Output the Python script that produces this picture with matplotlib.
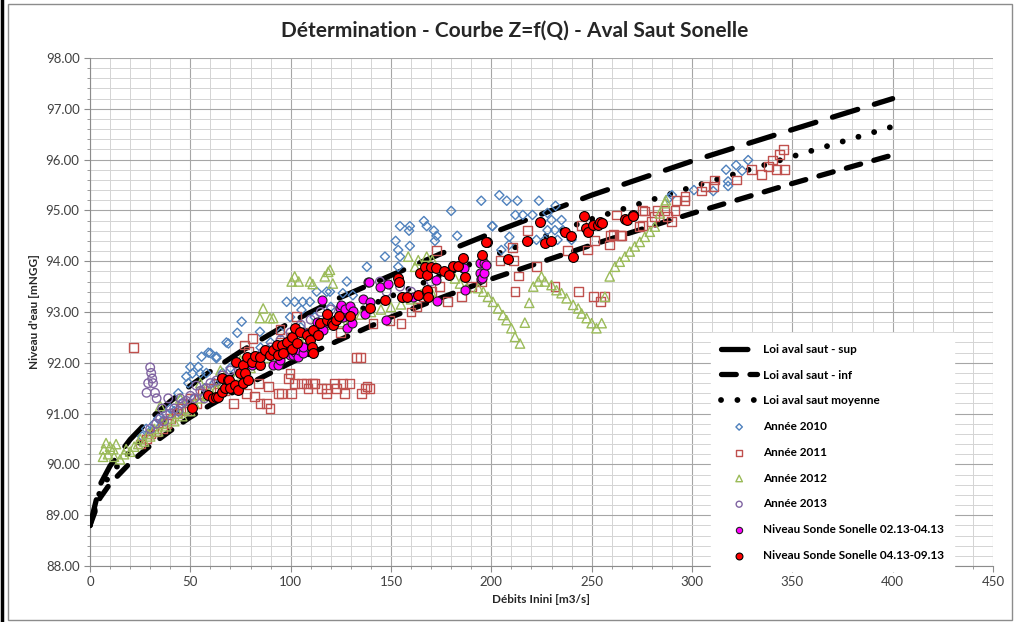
import matplotlib.pyplot as plt
from matplotlib.lines import Line2D
from matplotlib.patches import Rectangle

plt.rcParams['font.family'] = ['Lato', 'DejaVu Sans']

# rating curves
q_law = [0, 5, 10, 20, 30, 40, 50, 60, 75, 100, 125, 150, 175, 200, 250, 300, 350, 400]
z_sup = [88.8, 89.6, 89.97, 90.49, 90.9, 91.24, 91.55, 91.83, 92.22, 92.8, 93.29, 93.72,
         94.15, 94.55, 95.3, 95.97, 96.59, 97.2]
z_inf = [88.8, 89.34, 89.62, 90.03, 90.37, 90.66, 90.93, 91.17, 91.5, 92.0, 92.46, 92.9,
         93.28, 93.65, 94.32, 94.94, 95.53, 96.09]
z_moy = [88.8, 89.47, 89.8, 90.26, 90.63, 90.95, 91.24, 91.5, 91.86, 92.4, 92.88, 93.31,
         93.72, 94.1, 94.83, 95.46, 96.06, 96.65]

# Année 2010
q_2010 = [26, 28, 30, 32, 34, 36, 38, 40, 42, 44, 46.5, 48, 49, 50, 51, 54, 55, 55.6, 58, 59,
          60, 63, 63, 68, 69, 73.4, 75.6, 84.7, 99.7, 98, 102, 105.4, 106, 109.6, 113, 118,
          119.6, 126, 128, 131, 138, 45, 52, 57, 62, 66, 70, 78, 85, 90, 95, 105, 112, 120,
          147, 152.3, 153.6, 153.6, 154.5, 154.5, 159, 159.4, 159.4, 166.4, 167.8, 171.4,
          172.7, 171.9, 180, 183, 195, 200.4, 204, 207.7, 213, 223.7, 232, 212, 215.7, 220.5,
          200.6, 225, 228, 230, 235, 228, 231.7, 235.7, 226.7, 233, 240, 209, 208.8, 205,
          222.5, 288.5, 290, 301, 310.6, 318, 318, 317, 322, 325, 328]
z_2010 = [90.55, 90.7, 90.65, 90.8, 90.9, 90.85, 91.0, 91.1, 91.05, 91.4, 91.23, 91.73, 91.6,
          91.92, 91.79, 91.92, 91.79, 92.12, 91.8, 92.2, 92.19, 92.09, 92.12, 92.4, 92.38,
          92.59, 92.81, 92.61, 92.9, 93.2, 93.2, 93.04, 93.2, 93.2, 93.4, 93.4, 93.4, 93.37,
          93.6, 93.33, 93.89, 91.0, 91.3, 91.5, 91.6, 91.8, 91.9, 92.1, 92.3, 92.4, 92.6, 92.7,
          92.9, 93.1, 94.09, 94.4, 94.22, 93.89, 94.69, 94.09, 94.6, 94.69, 94.3, 94.79,
          94.69, 94.6, 94.5, 94.4, 94.99, 94.5, 95.19, 94.69, 95.3, 95.19, 95.19, 95.19,
          95.09, 94.91, 94.91, 94.91, 94.69, 94.78, 94.95, 94.81, 94.81, 94.61, 94.61, 94.61,
          94.42, 94.42, 94.42, 94.48, 94.32, 94.22, 94.42, 95.24, 95.3, 95.4, 95.38, 95.48,
          95.57, 95.8, 95.89, 95.78, 95.99]

# Année 2011
q_2011 = [21.6, 25, 28, 30, 33, 36, 38, 40, 43, 45, 48, 50, 53, 56, 60, 64, 67, 71.4, 77, 78,
          79, 81, 82, 84, 84.7, 88, 88.8, 89.7, 93.8, 94.7, 95.5, 98.8, 99.7, 100.5, 102, 103,
          105.6, 108, 108.7, 111, 112, 115.4, 118, 118, 122, 123, 126, 127, 129.5, 133, 135,
          135.4, 137, 139.5, 138, 90, 95, 100, 105, 110, 115, 120, 125, 130, 141, 149.5, 155,
          160, 163, 166, 170, 174, 172.7, 178, 185, 190, 195, 204.3, 210.6, 211, 211.8, 213.4,
          222.5, 231.7, 238, 243.3, 248, 250.8, 251.6, 254.4, 256.6, 259.5, 265, 262.4, 275.5,
          275.5, 259, 260.7, 264.4, 274, 276.5, 279.8, 281.5, 283, 286.5, 288, 289.8, 291.5,
          292, 296.5, 296.5, 304.7, 306.6, 310.6, 311.4, 322, 329.7, 334.7, 338, 340, 342,
          343.8, 345.5, 346.3, 218, 245]
z_2011 = [92.3, 90.4, 90.5, 90.6, 90.65, 90.7, 90.8, 90.9, 91.0, 91.1, 91.05, 91.3, 91.2, 91.4,
          91.5, 91.6, 91.45, 91.2, 92.35, 91.4, 92.22, 92.48, 91.33, 91.6, 91.2, 91.2, 91.53,
          91.1, 91.4, 92.65, 91.4, 91.69, 91.79, 91.4, 91.6, 92.91, 91.6, 91.6, 91.5, 91.6,
          91.6, 91.5, 91.5, 91.4, 91.6, 91.5, 91.6, 91.4, 91.6, 92.1, 92.1, 91.4, 91.5, 91.5,
          91.53, 92.2, 92.4, 92.5, 92.3, 92.6, 92.7, 92.8, 92.6, 92.9, 92.78, 92.84, 92.78,
          93.0, 93.1, 93.3, 93.4, 93.5, 94.21, 93.2, 93.3, 93.5, 93.6, 94.02, 94.27, 94.02,
          93.4, 93.71, 93.89, 93.5, 94.21, 93.4, 94.22, 93.3, 94.4, 93.2, 93.3, 94.5, 94.5,
          94.91, 95.0, 94.71, 94.32, 94.52, 94.5, 94.68, 94.99, 94.78, 94.88, 95.0, 95.0, 94.88,
          94.78, 95.0, 95.19, 95.19, 95.28, 95.38, 95.47, 95.47, 95.6, 95.6, 95.8, 95.7, 95.87,
          95.99, 95.8, 96.1, 96.2, 95.8, 94.6, 94.7]

# Année 2012
q_2012 = [6.5, 7, 8, 9, 10, 11.6, 12, 13, 15, 17, 18, 20, 22, 24, 25, 27, 29, 30, 32, 34, 36,
          38, 40, 42, 44, 46, 48, 50, 52, 55, 58, 60, 63, 66, 70, 73, 76, 80, 84, 88, 92, 96,
          100, 104, 108, 112, 116, 120, 125, 130, 135, 140, 145, 150, 155, 160, 165, 170, 35,
          45, 55, 65, 75, 84.7, 86.3, 89.7, 91.3, 100.5, 102, 104, 109.6, 111, 117, 118.7, 121,
          119.6, 158.6, 163.6, 167.8, 170.6, 162, 181.9, 184.4, 187.7, 193.5, 196, 198.3,
          200.8, 203.3, 205.8, 207.6, 210, 211.8, 214.3, 216.7, 218.9, 220.9, 223.4, 225,
          226.7, 230, 232.5, 235, 237.5, 240.8, 243.3, 245, 247.5, 250, 252.4, 255, 256.6, 259,
          261.6, 264, 266.6, 269, 271.5, 274, 276.5, 279, 281.5, 284, 286.5, 287]
z_2012 = [90.15, 90.3, 90.42, 90.2, 90.35, 90.3, 90.15, 90.4, 90.1, 90.2, 90.3, 90.25, 90.35,
          90.4, 90.5, 90.45, 90.6, 90.55, 90.7, 90.65, 90.8, 90.75, 90.9, 90.85, 91.0, 90.95,
          91.1, 91.05, 91.2, 91.3, 91.35, 91.45, 91.5, 91.6, 91.65, 91.75, 91.8, 91.9, 92.0,
          92.1, 92.2, 92.35, 92.4, 92.5, 92.55, 92.6, 92.7, 92.75, 92.8, 92.85, 92.95, 93.0,
          93.05, 93.1, 93.15, 93.25, 93.35, 93.4, 91.15, 91.3, 91.6, 91.85, 92.05, 92.88, 93.07,
          92.88, 92.88, 93.6, 93.7, 93.6, 93.6, 93.55, 93.7, 93.79, 93.56, 93.83, 94.09, 94.02,
          94.09, 94.02, 93.89, 93.66, 93.56, 93.47, 93.47, 93.4, 93.3, 93.2, 93.07, 92.94,
          92.84, 92.68, 92.51, 92.38, 92.79, 93.18, 93.5, 93.6, 93.7, 93.6, 93.53, 93.43,
          93.37, 93.27, 93.14, 93.07, 92.97, 92.88, 92.78, 92.68, 92.78, 93.3, 93.7, 93.89,
          93.99, 94.09, 94.19, 94.29, 94.38, 94.48, 94.58, 94.68, 94.94, 95.14, 95.2]

# Année 2013
q_2013 = [28.2, 29, 30, 30.5, 31, 31.4, 32.4, 33.2, 39, 30, 33, 35, 37, 40, 42, 44, 46, 48, 50,
          52, 55, 58, 60, 63, 66, 70, 74, 78, 82, 86, 90, 95, 100, 105, 110, 115, 120, 144.5,
          147.8, 154.5, 160, 170, 36, 45, 53, 57]
z_2013 = [91.41, 91.6, 91.91, 91.8, 91.69, 91.6, 91.41, 91.3, 91.3, 90.7, 90.8, 90.9, 90.85,
          91.0, 91.1, 91.05, 91.2, 91.25, 91.35, 91.3, 91.45, 91.5, 91.6, 91.65, 91.75, 91.85,
          91.95, 92.0, 92.1, 92.2, 92.3, 92.45, 92.6, 92.75, 92.85, 93.0, 93.05, 93.6, 93.4,
          93.5, 93.4, 93.6, 91.1, 91.3, 91.55, 91.3]

# Niveau Sonde Sonelle 02.13-04.13
q_s1 = [80.6, 91.3, 93.8, 94.7, 98.8, 99.7, 101.3, 102, 102, 103.8, 104, 106, 106.3, 107, 110.5,
        113, 115.4, 116.2, 118, 124.6, 124.9, 125, 126.2, 127, 127.9, 129.5, 130.4, 130.9, 137,
        136.2, 138.7, 139.2, 139.5, 144.5, 147.5, 148.6, 155.3, 161, 172.4, 172.7, 186, 186.5,
        186.8, 194.3, 194.3, 194.7, 195.2, 196.4, 196.4, 197.6]
z_s1 = [91.96, 91.96, 91.96, 92.06, 92.25, 92.15, 92.15, 92.22, 92.38, 92.12, 92.25, 92.2,
        92.32, 92.58, 92.55, 92.81, 93.24, 92.65, 92.81, 93.07, 93.14, 92.9, 92.91, 93.05,
        92.68, 93.12, 92.78, 93.01, 92.97, 93.25, 93.6, 93.6, 93.2, 93.5, 92.84, 93.56, 93.3,
        93.3, 93.62, 93.22, 93.86, 93.86, 93.43, 93.77, 93.96, 93.64, 93.66, 93.77, 93.96, 93.93]

# Niveau Sonde Sonelle 04.13-09.13
q_s2 = [50.7, 59, 61.4, 63, 64, 65.6, 65.6, 67.3, 69, 69.4, 69.8, 72.2, 72.7, 74, 74.7, 76.4,
        76.4, 77.2, 78, 78.9, 80.6, 82.2, 84.7, 84.7, 87.2, 89.7, 91.3, 93, 93.8, 95.5, 96, 98,
        100.5, 100.5, 102, 103, 104.6, 108, 109.6, 110.5, 111, 111.3, 113.7, 114.6, 118, 118,
        120.4, 121, 122.6, 124.3, 129.5, 139.5, 147, 153.6, 154, 155.3, 157.8, 163.6, 164.4,
        166.9, 167.8, 167.8, 168.2, 168.6, 169.9, 172.4, 176.4, 179, 181, 183.5, 186, 186.8,
        195.2, 198, 197.6, 208.4, 217.6, 224.2, 226.7, 229.5, 236.7, 239.5, 240.5, 246, 247.4,
        248.3, 250.8, 253.2, 254.4, 255, 266.6, 267.4, 270.4, 270.7]
z_s2 = [91.12, 91.37, 91.3, 91.33, 91.33, 91.43, 91.7, 91.5, 91.67, 91.66, 91.5, 91.56, 92.02,
        91.46, 91.79, 91.6, 91.96, 91.79, 92.12, 91.66, 92.02, 92.13, 91.96, 92.12, 92.25,
        92.15, 92.25, 92.35, 92.15, 92.35, 92.2, 92.41, 92.51, 92.28, 92.68, 92.38, 92.61,
        92.55, 92.45, 92.32, 92.2, 92.65, 92.55, 92.78, 92.84, 92.97, 92.78, 92.74, 92.84,
        92.93, 92.92, 93.07, 93.24, 93.66, 93.6, 93.3, 93.3, 93.33, 93.77, 93.88, 93.4, 93.44,
        93.73, 93.3, 93.88, 93.86, 93.8, 93.73, 93.9, 93.9, 94.06, 93.68, 94.12, 94.38, 94.38,
        94.04, 94.4, 94.78, 94.36, 94.4, 94.58, 94.5, 94.08, 94.88, 94.65, 94.58, 94.71, 94.71,
        94.78, 94.75, 94.84, 94.82, 94.91, 94.88]

x_ticks = [0, 50, 100, 150, 200, 250, 300, 350, 400, 450]
y_ticks = [88, 89, 90, 91, 92, 93, 94, 95, 96, 97, 98]

fig = plt.figure(figsize=(10.18, 6.22), dpi=100)
ax = fig.add_axes([0.0884, 0.09, 0.887, 0.8168])

# frame around the chart like the Excel chart area
fig.patches.append(Rectangle((0.008, 0.004), 0.986, 0.99, transform=fig.transFigure,
                             fill=False, edgecolor='#8c8c8c', lw=1.0))
fig.add_artist(Line2D([0.0015, 0.0015], [0, 1], transform=fig.transFigure,
                      color='black', lw=2.5))

ax.plot(q_law, z_sup, color='black', lw=3.8, ls=(0, (5, 3.3)), dash_capstyle='round',
        label='Loi aval saut - sup', zorder=3)
ax.plot(q_law, z_inf, color='black', lw=3.8, ls=(0, (2.8, 2.6)), dash_capstyle='round',
        label='Loi aval saut - inf', zorder=3)
ax.plot(q_law, z_moy, color='black', lw=4.2, ls=(0, (0.01, 2.8)), dash_capstyle='round',
        label='Loi aval saut moyenne', zorder=3)

ax.scatter(q_2010, z_2010, marker='D', s=22, facecolors='none', edgecolors='#4F81BD',
           linewidths=1.0, label='Année 2010', zorder=4)
ax.scatter(q_2011, z_2011, marker='s', s=40, facecolors='none', edgecolors='#C0504D',
           linewidths=1.0, label='Année 2011', zorder=4)
ax.scatter(q_2012, z_2012, marker='^', s=45, facecolors='none', edgecolors='#9BBB59',
           linewidths=1.0, label='Année 2012', zorder=4)
ax.scatter(q_2013, z_2013, marker='o', s=38, facecolors='none', edgecolors='#8064A2',
           linewidths=1.0, label='Année 2013', zorder=4)
ax.scatter(q_s1, z_s1, marker='o', s=42, facecolors='#FF00FF', edgecolors='#202020',
           linewidths=0.8, label='Niveau Sonde Sonelle 02.13-04.13', zorder=5)
ax.scatter(q_s2, z_s2, marker='o', s=50, facecolors='#FF0000', edgecolors='#000000',
           linewidths=0.8, label='Niveau Sonde Sonelle 04.13-09.13', zorder=6)

ax.set_xlim(0, 450)
ax.set_ylim(88, 98)
ax.set_xticks(x_ticks)
ax.set_yticks(y_ticks)
ax.set_yticklabels([f'{v:.2f}' for v in y_ticks])
ax.set_xticks(range(0, 451, 10), minor=True)
ax.set_yticks([88 + 0.2 * i for i in range(51)], minor=True)
ax.grid(which='major', color='#a6a6a6', lw=0.8, zorder=0)
ax.grid(which='minor', color='#d4d4d4', lw=0.7, zorder=0)
ax.set_axisbelow(True)
ax.tick_params(which='both', colors='#8c8c8c', labelcolor='#404040', labelsize=9.5)
ax.tick_params(which='major', length=4)
ax.tick_params(which='minor', length=2)
for side in ['top', 'right']:
    ax.spines[side].set_visible(False)
for side in ['left', 'bottom']:
    ax.spines[side].set_color('#8c8c8c')

fig.text(0.506, 0.951, 'Détermination - Courbe Z=f(Q) - Aval Saut Sonelle', fontsize=15,
         fontweight='bold', color='#262626', ha='center', va='center')
ax.set_xlabel('Débits Inini [m3/s]', fontsize=8.5, fontweight='bold', color='#262626')
ax.set_ylabel("Niveau d'eau [mNGG]", fontsize=8.5, fontweight='bold', color='#262626')

leg = ax.legend(loc='upper left', bbox_to_anchor=(0.681, 0.47), frameon=True,
                fancybox=False, framealpha=1, edgecolor='white', facecolor='white',
                prop={'weight': 'bold', 'size': 8.5}, labelspacing=1.25,
                handlelength=3.0, handletextpad=0.5, borderpad=0.9, markerscale=0.7)
leg.set_zorder(10)

fig.savefig('out.png', dpi=100)
